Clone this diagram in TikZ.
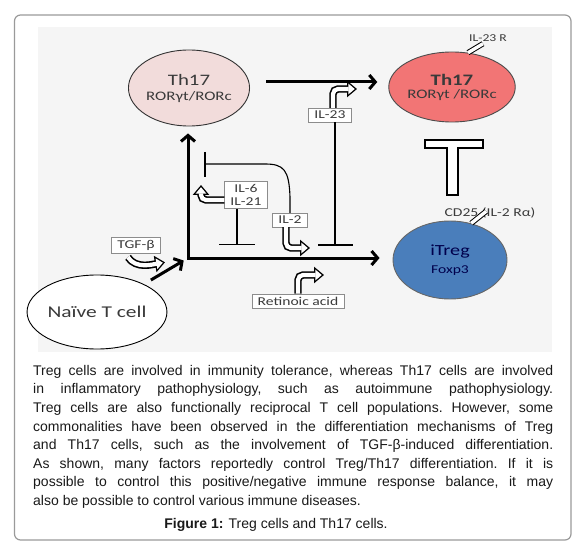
\documentclass[tikz,border=0pt]{standalone}
\usepackage{fontspec}
\setmainfont{Liberation Sans}
\newfontfamily\diagfont[FakeStretch=1.3]{Carlito}
\usetikzlibrary{shapes.geometric,arrows.meta,positioning,calc}
\definecolor{panelgray}{HTML}{F5F5F5}
\definecolor{framegray}{HTML}{9A9A9A}
\definecolor{thpink}{HTML}{F2DCDB}
\definecolor{thred}{HTML}{F27575}
\definecolor{tregblue}{HTML}{4A7EBB}
\definecolor{inkgray}{HTML}{3A3A3A}

\tikzset{
  cell/.style={ellipse, draw=black!80, line width=0.9pt, minimum width=114, minimum height=76, align=center, inner sep=0pt, text=inkgray},
  factor/.style={draw=black!45, fill=white, text=inkgray, inner xsep=6pt, inner ysep=3pt, align=center,
    font=\diagfont\fontsize{12}{13}\selectfont},
  main/.style={line width=3pt, -{Straight Barb[length=6pt,width=14pt]}},
  block/.style={line width=1.4pt},
  hollow/.style={white, line width=4.2pt, rounded corners=5pt, shorten >=2.2pt, -{Triangle[length=6.5pt,width=10.5pt]},
    preaction={draw=black, line width=7.4pt, shorten >=0pt, -{Triangle[length=10pt,width=16pt]}}},
  receptor/.style={white, line width=3.4pt, preaction={draw=black, line width=5.4pt}},
}

\begin{document}
\begin{tikzpicture}[x=1pt, y=-1pt]
  \useasboundingbox (0,0) rectangle (586,556);
  % frame and panel
  \draw[framegray, line width=1.2pt, rounded corners=6pt] (14.5,15) rectangle (571,540);
  \fill[panelgray] (38,27) rectangle (552,352);

  % cells
  \node[cell, fill=thpink] (th17a) at (189,88)
    {{\diagfont\fontsize{16}{18}\selectfont Th17}\\[3pt]{\diagfont\fontsize{13}{14}\selectfont RORγt/RORc}};
  \node[cell, fill=thred, draw=black!70, minimum width=116, minimum height=70] (th17b) at (452,87)
    {{\diagfont\bfseries\fontsize{16}{18}\selectfont Th17}\\[1pt]{\diagfont\fontsize{13}{14}\selectfont RORγt /RORc}};
  \node[cell, fill=tregblue, draw=black!60, minimum width=114, minimum height=78, text=black!70!blue] (itreg) at (450,260)
    {{\diagfont\fontsize{15.5}{18}\selectfont iTreg}\\[6pt]{\diagfont\fontsize{12}{13}\selectfont Foxp3}};
  \node[cell, fill=white, draw=black, minimum width=110, minimum height=74] (naive) at (97,312)
    {\diagfont\fontsize{16.5}{18}\selectfont Naïve T cell};

  % receptor labels
  \node[text=inkgray, font=\diagfont\fontsize{10.5}{11}\selectfont] (il23r) at (488,38) {IL-23 R};
  \node[text=inkgray, font=\diagfont\fontsize{12}{13}\selectfont] (cd25) at (490,213) {CD25 (IL-2 Rα)};
  \draw[receptor] (th17b.65) -- ++(15,-9);
  \draw[receptor] (itreg.60) -- ++(15,-12);

  % factors
  \node[factor] (tgf) at (136,245) {TGF-β};
  \node[factor] (il6) at (246,195) {IL-6\\IL-21};
  \node[factor] (il2) at (290,220) {IL-2};
  \node[factor] (il23) at (330,115) {IL-23};
  \node[factor] (ra) at (298,301) {Retinoic acid};

  % main differentiation arrows
  \coordinate (corner) at (188,258);
  \draw[line width=3pt, {Straight Barb[length=6pt,width=14pt]}-{Straight Barb[length=6pt,width=14pt]},
    shorten <=7pt, shorten >=13pt] (corner |- th17a.south) -- (corner) -- (corner -| itreg.west);
  \draw[main, shorten <=16pt, shorten >=11pt] ([yshift=6pt]th17a.east) -- ([yshift=5pt]th17b.west);
  \draw[main, shorten <=8pt, shorten >=5pt] (naive) -- (corner);

  % inhibition
  \draw[block] ([xshift=-9pt]il6.south) -- ++(0,36) ++(-18,0) -- ++(36,0);
  \draw[block] ([xshift=5pt]il23.south) -- ++(0,123) ++(-17,0) -- ++(35,0);
  \coordinate (il2stop) at (205,164);
  \draw[line width=1.1pt] (il2.north) -- ++(0,-16) .. controls (289,170) and (284,164) .. (265,164) -- (il2stop);
  \draw[line width=1.4pt] ([yshift=12pt]il2stop) -- ([yshift=-13pt]il2stop);

  % Treg/Th17 reciprocal
  \filldraw[fill=white, draw=black, line width=1.2pt] (425,140) -- (483,140) -- (483,148) -- (458,148)
    -- (458,195) -- (447,195) -- (447,148) -- (425,148) -- cycle;

  % inducing signals
  \draw[hollow] ([xshift=3pt]il23.north) |- (357,89);
  \draw[hollow] ([yshift=-5pt]il6.west) -| (201,185);
  \draw[hollow] ([xshift=-4pt]il2.south) |- (310,248);
  \draw[hollow] (ra.north) |- (324,275);
  \draw[hollow] ([shift={(-8,4)}]tgf.south) .. controls +(8,12) and +(-12,2) .. ++(37,5);

  % caption
  \node[anchor=north west, text width=520pt, align=justify, inner sep=0pt, text=black!90,
    font=\fontsize{14}{18.6}\selectfont] (caption) at (33,365)
    {\frenchspacing\hyphenpenalty=10000 Treg cells are involved in immunity tolerance, whereas Th17 cells are involved\linebreak
     in inflammatory pathophysiology, such as autoimmune pathophysiology.\linebreak
     Treg cells are also functionally reciprocal T cell populations. However, some\linebreak
     commonalities have been observed in the differentiation mechanisms of Treg\linebreak
     and Th17 cells, such as the involvement of TGF-β-induced differentiation.\linebreak
     As shown, many factors reportedly control Treg/Th17 differentiation. If it is\linebreak
     possible to control this positive/negative immune response balance, it may\linebreak
     also be possible to control various immune diseases.};
  \node[anchor=base, text=black!90, font=\fontsize{14}{17}\selectfont] (figline) at (276,528)
    {\textbf{Figure 1:} Treg cells and Th17 cells.};
\end{tikzpicture}
\end{document}
